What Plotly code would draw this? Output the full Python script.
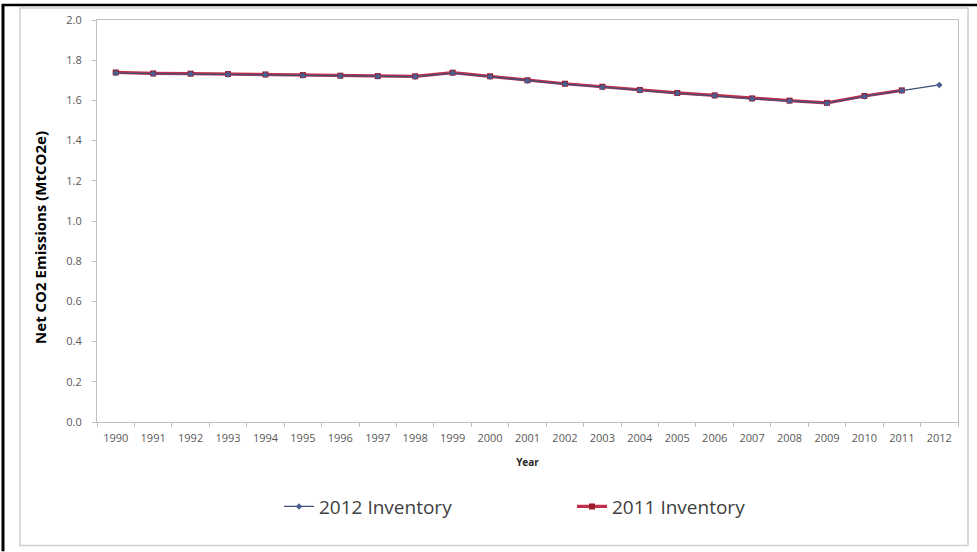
import plotly.graph_objects as go

years = [str(y) for y in range(1990, 2013)]
inv_2011 = [1.739, 1.734, 1.733, 1.731, 1.729, 1.726, 1.723, 1.721, 1.720, 1.738,
            1.720, 1.700, 1.683, 1.668, 1.652, 1.637, 1.625, 1.610, 1.599, 1.588,
            1.622, 1.650]
inv_2012 = [1.736, 1.732, 1.731, 1.729, 1.727, 1.724, 1.721, 1.719, 1.718, 1.736,
            1.718, 1.698, 1.681, 1.666, 1.650, 1.635, 1.623, 1.608, 1.597, 1.586,
            1.620, 1.648, 1.677]

W, H = 977, 552
L, R, T, B = 97, 958, 18, 422

def px(x):
    return (x - L) / (R - L)

def py(y):
    return (B - y) / (B - T)

fig = go.Figure()
fig.add_trace(go.Scatter(
    x=years[:len(inv_2011)], y=inv_2011, name="2011 Inventory", mode="lines+markers",
    line=dict(color="#C0304A", width=3.2),
    marker=dict(symbol="square", size=6, color="#9B1B30", line=dict(width=0)),
))
fig.add_trace(go.Scatter(
    x=years, y=inv_2012, name="2012 Inventory", mode="lines+markers",
    line=dict(color="#3F4F7A", width=1.3),
    marker=dict(symbol="diamond", size=5, color="#4A5F8F", line=dict(width=0)),
))

fig.update_layout(
    width=W, height=H,
    margin=dict(l=L, r=W - R, t=T, b=H - B),
    paper_bgcolor="white", plot_bgcolor="white",
    font=dict(family="Open Sans, Lato, sans-serif", color="#595959"),
    showlegend=True,
    legend=dict(
        orientation="h", traceorder="reversed",
        x=px(279), xanchor="left", y=py(507), yanchor="middle",
        entrywidth=248, entrywidthmode="pixels",
        font=dict(size=19, color="#404040", family="Open Sans, Lato, sans-serif"),
        itemwidth=30, bgcolor="rgba(0,0,0,0)",
    ),
    xaxis=dict(
        type="category", tickson="boundaries", ticks="outside", ticklen=4,
        range=[-0.5, len(years) - 0.5],
        tickcolor="#BFBFBF", showline=True, linecolor="#BFBFBF", linewidth=1,
        mirror=True, showgrid=False, tickfont=dict(size=11, color="#595959"),
        tickangle=0, ticklabelstandoff=6,
        title=dict(text="<b>Year</b>", font=dict(size=10, color="#262626"), standoff=14),
    ),
    yaxis=dict(
        range=[0, 2.0], dtick=0.2, tickformat=".1f", ticks="outside", ticklen=4,
        tickcolor="#BFBFBF", showline=True, linecolor="#BFBFBF", linewidth=1,
        mirror=True, showgrid=False, zeroline=False,
        tickfont=dict(size=11, color="#595959"), ticklabelstandoff=8,
    ),
    annotations=[
        dict(text="<b>Net CO2 Emissions (MtCO2e)</b>", textangle=-90,
             xref="paper", yref="paper", x=px(40), y=py(237),
             xanchor="center", yanchor="middle", showarrow=False,
             font=dict(size=15, color="#000000", family="Open Sans, Lato, sans-serif")),
    ],
    shapes=[
        dict(type="rect", xref="paper", yref="paper",
             x0=px(20), x1=px(968), y0=py(546), y1=py(6),
             line=dict(color="#D0D0D0", width=1.5), layer="below"),
        dict(type="line", xref="paper", yref="paper",
             x0=px(3), x1=px(3), y0=py(552), y1=py(2),
             line=dict(color="black", width=3)),
        dict(type="line", xref="paper", yref="paper",
             x0=px(2), x1=px(977), y0=py(3), y1=py(3),
             line=dict(color="black", width=2.5)),
    ],
)

fig.write_html("out.html", config={"displayModeBar": False},
               post_script="document.body.style.margin='0px';")
